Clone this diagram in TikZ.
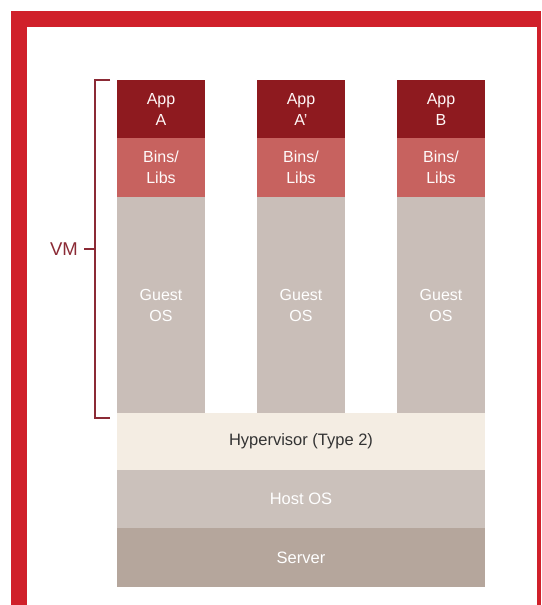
\documentclass[tikz,border=0pt]{standalone}
\usepackage{fontspec}
\setmainfont{Liberation Sans}
\definecolor{bordred}{HTML}{D0202A}
\definecolor{appred}{HTML}{8E1A1F}
\definecolor{binred}{HTML}{C7625F}
\definecolor{guestc}{HTML}{C9BEB8}
\definecolor{hyperc}{HTML}{F4EDE3}
\definecolor{hostc}{HTML}{CBC1BB}
\definecolor{serverc}{HTML}{B5A69C}
\definecolor{brackc}{HTML}{8B2A35}
\definecolor{darktext}{HTML}{333333}
\begin{document}
\begin{tikzpicture}[x=1pt,y=-1pt,
  layer/.style={anchor=north west, inner sep=0pt, outer sep=0pt, minimum width=88pt, align=center,
    font=\fontsize{16}{21}\selectfont, text=white},
  appbox/.style={layer, fill=appred, minimum height=58pt, text=white!88!pink},
  binbox/.style={layer, fill=binred, minimum height=59pt, text=white!92!pink},
  guestbox/.style={layer, fill=guestc, minimum height=216pt},
  basebox/.style={layer, minimum width=368pt, font=\fontsize{16.5}{20}\selectfont},
  brack/.style={draw=brackc, line width=1.3pt}
]
\useasboundingbox (0,0) rectangle (541,605);
\fill[bordred] (11,11) rectangle (541,605);
\fill[white] (27,27) rectangle (537,605);

% columns
\node[appbox] (appA) at (117,80) {App\\A};
\node[binbox] (binA) at (117,138) {Bins/\\Libs};
\node[guestbox] (guestA) at (117,197) {Guest\\OS};

\node[appbox] (appA2) at (257,80) {App\\A'};
\node[binbox] (binA2) at (257,138) {Bins/\\Libs};
\node[guestbox] (guestA2) at (257,197) {Guest\\OS};

\node[appbox] (appB) at (397,80) {App\\B};
\node[binbox] (binB) at (397,138) {Bins/\\Libs};
\node[guestbox] (guestB) at (397,197) {Guest\\OS};

% base layers
\node[basebox, fill=hyperc, minimum height=57pt, text=darktext] (hyper) at (117,413) {Hypervisor (Type 2)};
\node[basebox, fill=hostc, minimum height=58pt] (host) at (117,470) {Host OS};
\node[basebox, fill=serverc, minimum height=59pt] (server) at (117,528) {Server};

% VM bracket
\coordinate (bt) at (110,80);
\coordinate (bb) at (110,418);
\coordinate (bm) at (95,249);
\draw[brack] (bt) -- (95,80) -- (95,418) -- (bb);
\node[anchor=east, inner sep=0pt, text=brackc, font=\fontsize{18.5}{22}\selectfont] (vm) at (78,249) {VM};
\draw[brack] ([xshift=6pt]vm.east) -- (bm);
\end{tikzpicture}
\end{document}
